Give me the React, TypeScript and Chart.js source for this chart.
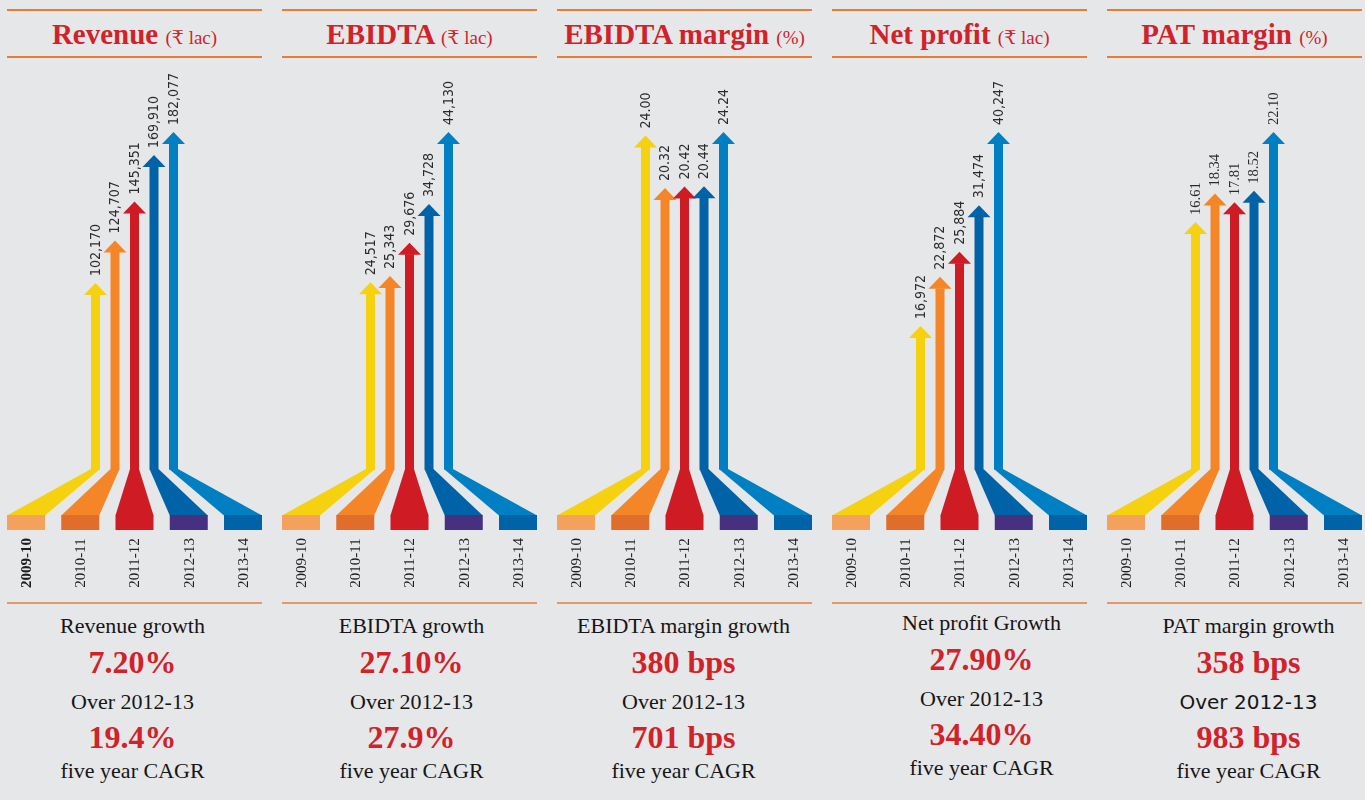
import React, { useEffect, useRef } from "react";
import { Chart, registerables } from "chart.js";

Chart.register(...registerables);

// ---------- data ----------
const years = ["2009-10", "2010-11", "2011-12", "2012-13", "2013-14"];

const panelTitles = ["Revenue", "EBIDTA", "EBIDTA margin", "Net profit", "PAT margin"];
const panelUnits = ["(₹ lac)", "(₹ lac)", "(%)", "(₹ lac)", "(%)"];

const revenue = [102170, 124707, 145351, 169910, 182077];
const ebidta = [24517, 25343, 29676, 34728, 44130];
const ebidtaMargin = [24.0, 20.32, 20.42, 20.44, 24.24];
const netProfit = [16972, 22872, 25884, 31474, 40247];
const patMargin = [16.61, 18.34, 17.81, 18.52, 22.1];

const panelValues = [revenue, ebidta, ebidtaMargin, netProfit, patMargin];
const panelDecimals = [0, 0, 2, 0, 2];

const growthLabels = [
  "Revenue growth",
  "EBIDTA growth",
  "EBIDTA margin growth",
  "Net profit Growth",
  "PAT margin growth",
];
const growthValues = ["7.20%", "27.10%", "380 bps", "27.90%", "358 bps"];
const periodLabels = ["Over 2012-13", "Over 2012-13", "Over 2012-13", "Over 2012-13", "Over 2012-13"];
const cagrValues = ["19.4%", "27.9%", "701 bps", "34.40%", "983 bps"];
const cagrLabels = ["five year CAGR", "five year CAGR", "five year CAGR", "five year CAGR", "five year CAGR"];

// ---------- style / layout ----------
const ARROW_COLORS = ["#f6d10f", "#f58628", "#cf1b24", "#0062a7", "#0080c3"];
const BASE_COLORS = ["#f4a15e", "#e06d2a", "#cf1b24", "#46307f", "#0062a7"];
const BG = "#e6e7e9";
const RED = "#d1222a";
const ORANGE_LINE = "#ea7b31";
const SALMON_LINE = "#e9956a";
const SERIF = "'Liberation Serif', 'DejaVu Serif', 'Times New Roman', serif";

const PANEL_LEFT = 7;
const PANEL_STEP = 275;
const PANEL_W = 255;
const CANVAS_TOP = 60;
const CANVAS_H = 540;
// page y where each panel's zero value sits
const ZERO_Y = [476, 470, 478, 467.5, 494];
const MAX_TIP_Y = 132;
const TEXT_SHIFT = [
  { dx: -2, dy: 0 },
  { dx: 2, dy: 0 },
  { dx: -1, dy: 0 },
  { dx: 22, dy: -3 },
  { dx: 14, dy: 0 },
];

// canvas-local geometry
const RECT_TOP = 455;
const RECT_H = 15;
const RECT_W = 38;
const DIAG_TOP = 409;
const SHAFT_W = 9;
const SHAFT_GAP = 19.5;
const HEAD_W = 23;
const HEAD_H = 12;
const YEAR_LABEL_Y = 503;

const arrowsPlugin = {
  id: "arrows",
  afterDatasetsDraw(chart: any) {
    const opts = chart.options.plugins.arrows || {};
    const ctx: CanvasRenderingContext2D = chart.ctx;
    const meta = chart.getDatasetMeta(0);
    const xScale = chart.scales.x;
    const area = chart.chartArea;
    const mid = (area.left + area.right) / 2;
    const labels: string[] = chart.data.labels;
    const values: number[] = chart.data.datasets[0].data;
    const n = meta.data.length;
    ctx.save();
    for (let i = 0; i < n; i++) {
      const bx = xScale.getPixelForValue(i);
      const sx = mid + (i - (n - 1) / 2) * SHAFT_GAP;
      const rl = bx - RECT_W / 2;
      const rr = bx + RECT_W / 2;
      const sl = sx - SHAFT_W / 2;
      const sr = sx + SHAFT_W / 2;
      const tip = meta.data[i].y;

      ctx.fillStyle = ARROW_COLORS[i];
      // diagonal feed
      ctx.beginPath();
      ctx.moveTo(rl, RECT_TOP + 0.5);
      ctx.lineTo(rr, RECT_TOP + 0.5);
      ctx.lineTo(sr, DIAG_TOP);
      ctx.lineTo(sl, DIAG_TOP);
      ctx.closePath();
      ctx.fill();
      // shaft
      ctx.fillRect(sl, tip + HEAD_H - 0.5, SHAFT_W, DIAG_TOP - (tip + HEAD_H) + 1);
      // head
      ctx.beginPath();
      ctx.moveTo(sx - HEAD_W / 2, tip + HEAD_H);
      ctx.lineTo(sx + HEAD_W / 2, tip + HEAD_H);
      ctx.lineTo(sx, tip);
      ctx.closePath();
      ctx.fill();
      // base block
      ctx.fillStyle = BASE_COLORS[i];
      ctx.fillRect(rl, RECT_TOP, RECT_W, RECT_H);

      // value label
      const v = values[i];
      const txt =
        opts.decimals > 0
          ? v.toFixed(opts.decimals)
          : v.toLocaleString("en-US");
      ctx.save();
      ctx.translate(sx + 0.5, tip - 7);
      ctx.rotate(-Math.PI / 2);
      ctx.fillStyle = "#2b2b2b";
      ctx.font = opts.valueFont;
      ctx.textAlign = "left";
      ctx.textBaseline = "middle";
      ctx.fillText(txt, 0, 0);
      ctx.restore();

      // year label
      ctx.save();
      ctx.translate(bx + 1, YEAR_LABEL_Y);
      ctx.rotate(-Math.PI / 2);
      ctx.fillStyle = "#1e1e1e";
      ctx.font = (opts.boldFirst && i === 0 ? "bold " : "") + "15px " + SERIF;
      ctx.textAlign = "center";
      ctx.textBaseline = "middle";
      ctx.fillText(labels[i], 0, 0);
      ctx.restore();
    }
    ctx.restore();
  },
};

function ArrowChart({ index }: { index: number }) {
  const ref = useRef<HTMLCanvasElement | null>(null);
  useEffect(() => {
    if (!ref.current) return;
    const values = panelValues[index];
    const zeroCanvas = ZERO_Y[index] - CANVAS_TOP;
    const chart = new Chart(ref.current, {
      type: "bar",
      data: {
        labels: years,
        datasets: [
          {
            data: values,
            backgroundColor: "rgba(0,0,0,0)",
            borderWidth: 0,
          },
        ],
      },
      options: {
        responsive: false,
        animation: false,
        events: [],
        layout: {
          padding: {
            top: MAX_TIP_Y - CANVAS_TOP,
            bottom: CANVAS_H - zeroCanvas,
            left: 19,
            right: 19,
          },
        },
        scales: {
          x: { display: false, offset: false, grid: { display: false } },
          y: { display: false, min: 0, max: Math.max(...values) },
        },
        plugins: {
          legend: { display: false },
          tooltip: { enabled: false },
          // @ts-ignore
          arrows: {
            decimals: panelDecimals[index],
            valueFont:
              index === 4
                ? "14.5px " + SERIF
                : "14px 'Liberation Sans Narrow', 'DejaVu Sans Condensed', 'Liberation Sans', sans-serif",
            boldFirst: index === 0,
          },
        },
      } as any,
      plugins: [arrowsPlugin as any],
    });
    return () => chart.destroy();
  }, [index]);
  return (
    <canvas
      ref={ref}
      width={PANEL_W}
      height={CANVAS_H}
      style={{ position: "absolute", left: 0, top: CANVAS_TOP, width: PANEL_W, height: CANVAS_H }}
    />
  );
}

function TextLine({
  text,
  baseline,
  size,
  color,
  bold,
  dx,
  family,
}: {
  text: string;
  baseline: number;
  size: number;
  color: string;
  bold?: boolean;
  dx: number;
  family?: string;
}) {
  return (
    <div
      style={{
        position: "absolute",
        left: -40 + dx,
        width: PANEL_W + 80,
        top: baseline - 0.8375 * size,
        fontSize: size,
        lineHeight: size + "px",
        fontFamily: family || SERIF,
        fontWeight: bold ? 700 : 400,
        color,
        textAlign: "center",
        whiteSpace: "nowrap",
      }}
    >
      {text}
    </div>
  );
}

function Panel({ index }: { index: number }) {
  const sh = TEXT_SHIFT[index];
  const dy = sh.dy;
  return (
    <div
      style={{
        position: "absolute",
        left: PANEL_LEFT + index * PANEL_STEP,
        top: 0,
        width: PANEL_W,
        height: 800,
      }}
    >
      <div style={{ position: "absolute", left: 0, top: 9, width: PANEL_W, height: 2, background: ORANGE_LINE }} />
      <div style={{ position: "absolute", left: 0, top: 56, width: PANEL_W, height: 2, background: ORANGE_LINE }} />
      <div
        style={{
          position: "absolute",
          left: -40,
          width: PANEL_W + 80,
          top: 44 - 0.8375 * 29,
          fontSize: 29,
          lineHeight: "29px",
          fontFamily: SERIF,
          fontWeight: 700,
          color: RED,
          textAlign: "center",
          whiteSpace: "nowrap",
        }}
      >
        {panelTitles[index]}{" "}
        <span style={{ fontSize: 19, fontWeight: 400 }}>{panelUnits[index]}</span>
      </div>

      <ArrowChart index={index} />

      <div style={{ position: "absolute", left: 0, top: 602, width: PANEL_W, height: 2, background: SALMON_LINE }} />

      <TextLine text={growthLabels[index]} baseline={633 + dy} size={22} color="#161616" dx={sh.dx} />
      <TextLine text={growthValues[index]} baseline={673 + dy} size={32} color={RED} bold dx={sh.dx} />
      <TextLine
        text={periodLabels[index]}
        baseline={709 + dy}
        size={index === 4 ? 20 : 22}
        color="#161616"
        dx={sh.dx}
        family={index === 4 ? "'DejaVu Sans', 'Noto Sans', sans-serif" : undefined}
      />
      <TextLine text={cagrValues[index]} baseline={748 + dy} size={32} color={RED} bold dx={sh.dx} />
      <TextLine text={cagrLabels[index]} baseline={778 + dy} size={22} color="#161616" dx={sh.dx} />
    </div>
  );
}

export default function App() {
  return (
    <div
      style={{
        position: "fixed",
        left: 0,
        top: 0,
        width: 1365,
        height: 800,
        background: BG,
        overflow: "hidden",
      }}
    >
      {panelTitles.map((_, i) => (
        <Panel key={i} index={i} />
      ))}
    </div>
  );
}
